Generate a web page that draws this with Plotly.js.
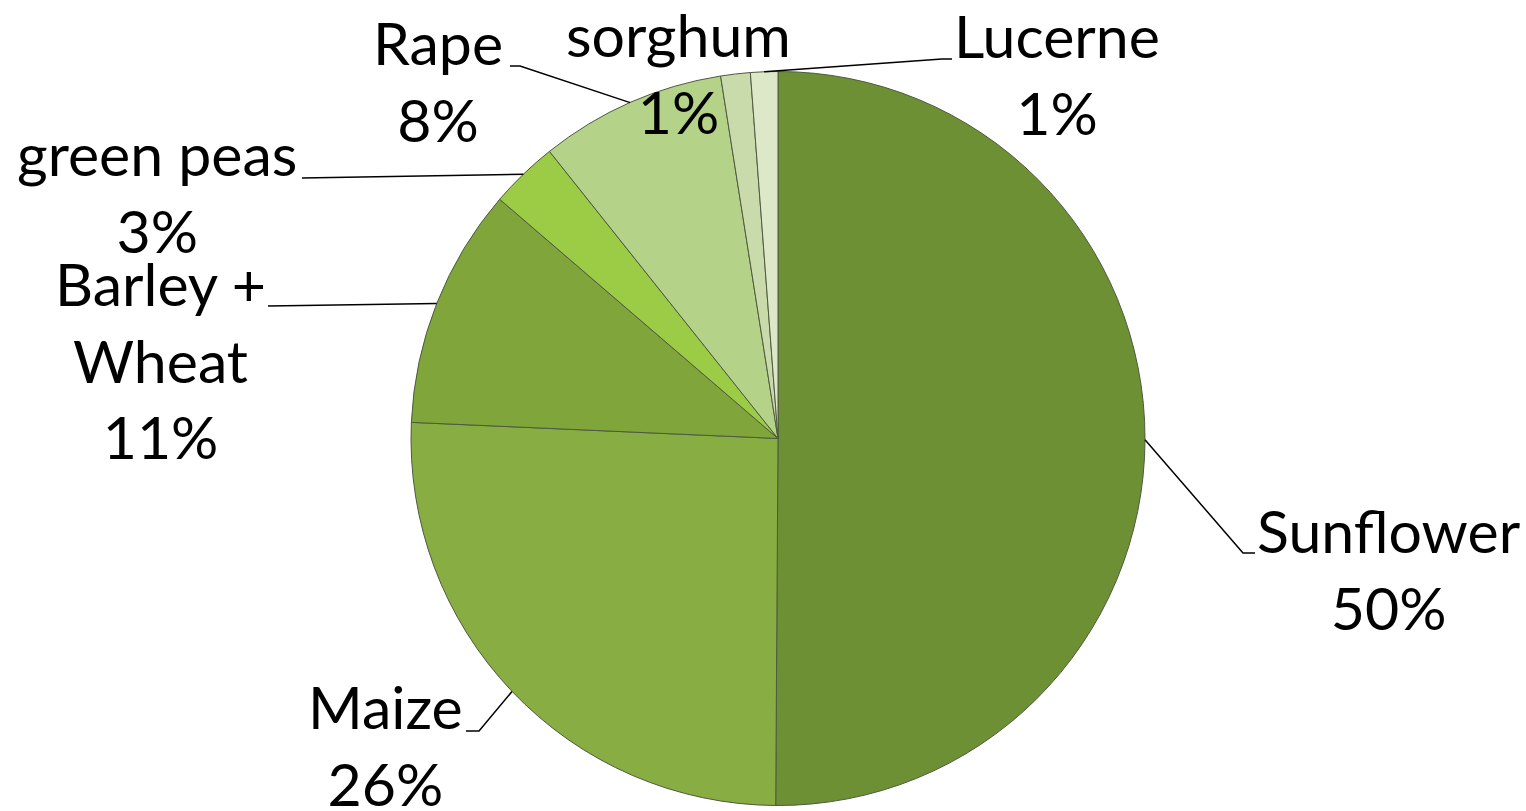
<!DOCTYPE html>
<html>
<head>
<meta charset="utf-8">
<script src="https://cdn.plot.ly/plotly-3.0.1.min.js"></script>
<style>
  html, body { margin: 0; padding: 0; background: #ffffff; }
  #chart { width: 1526px; height: 811px; }
</style>
</head>
<body>
<div id="chart"></div>
<script>
// ---- data ----
var crops = ["Sunflower", "Maize", "Barley +<br>Wheat", "green peas", "Rape", "sorghum", "Lucerne"];
var shares = [50.1, 25.6, 10.6, 3.0, 8.2, 1.3, 1.2];

// ---- styles / layout ----
var sliceColors = ["#6d9034", "#88ad42", "#7fa53b", "#9ccb46", "#b4d288", "#cadbab", "#dce8c8"];
var W = 1526, H = 811;
var CX = 778, CY = 438.5, R = 367;
var FS = 59;
// label block centres (px) and leader-line elbows (px)
var labelCenters = [[1389, 569], [385, 745], [160, 360], [157, 192], [438, 81], [678, 73], [1057, 74]];
var leaderElbows = [
  [[1243, 553], [1255, 553]],
  [[479, 731], [466, 731]],
  [[268, 306]],
  [[302, 178]],
  [[520, 66], [510, 66]],
  null,
  [[942, 59], [952, 59]]
];

function px2x(p) { return p / W; }
function py2y(p) { return 1 - p / H; }

var total = shares.reduce(function (a, b) { return a + b; }, 0);
var annotations = [];
var shapes = [];
var cum = 0;
for (var i = 0; i < crops.length; i++) {
  var frac = shares[i] / total;
  var mid = (cum + frac / 2) * 2 * Math.PI; // clockwise from 12 o'clock
  cum += frac;
  var ex = CX + R * Math.sin(mid);
  var ey = CY - R * Math.cos(mid);
  var pct = Math.round(frac * 100) + "%";
  annotations.push({
    xref: "paper", yref: "paper",
    x: px2x(labelCenters[i][0]), y: py2y(labelCenters[i][1]),
    xanchor: "center", yanchor: "middle",
    text: crops[i] + "<br>" + pct,
    showarrow: false, align: "center",
    font: { family: "Lato, 'Open Sans', sans-serif", size: FS, color: "#000000" }
  });
  if (leaderElbows[i]) {
    var path = "M " + px2x(ex) + "," + py2y(ey);
    leaderElbows[i].forEach(function (pt) {
      path += " L " + px2x(pt[0]) + "," + py2y(pt[1]);
    });
    shapes.push({
      type: "path", xref: "paper", yref: "paper", path: path,
      line: { color: "#000000", width: 1.5 }
    });
  }
}

var trace = {
  type: "pie",
  labels: crops,
  values: shares,
  sort: false,
  direction: "clockwise",
  rotation: 0,
  textinfo: "none",
  hoverinfo: "label+percent",
  marker: { colors: sliceColors, line: { color: "#4f5a40", width: 1 } },
  domain: { x: [px2x(CX - R), px2x(CX + R)], y: [py2y(CY + R), py2y(CY - R)] },
  showlegend: false
};

var layout = {
  width: W, height: H,
  margin: { l: 0, r: 0, t: 0, b: 0 },
  paper_bgcolor: "#ffffff",
  plot_bgcolor: "#ffffff",
  showlegend: false,
  annotations: annotations,
  shapes: shapes
};

Plotly.newPlot("chart", [trace], layout, { displayModeBar: false, staticPlot: true });
</script>
</body>
</html>
